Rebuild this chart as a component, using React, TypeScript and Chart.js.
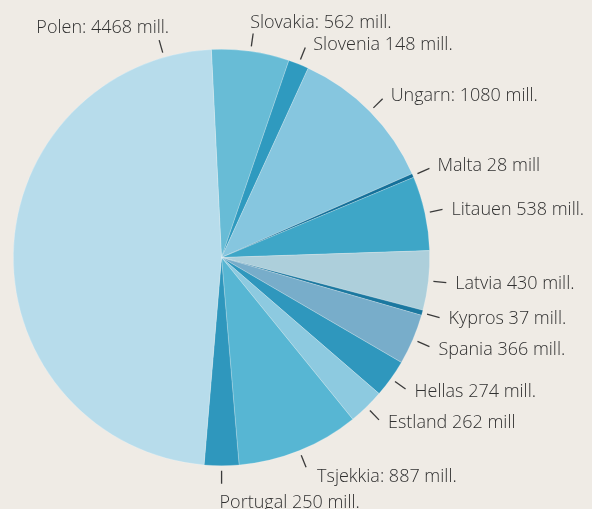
import React, { useEffect, useRef } from "react";
import { Chart, registerables } from "chart.js";

Chart.register(...registerables);

const countries = [
  "Slovakia", "Slovenia", "Ungarn", "Malta", "Litauen", "Latvia", "Kypros",
  "Spania", "Hellas", "Estland", "Tsjekkia", "Portugal", "Polen",
];
const amounts = [562, 148, 1080, 28, 538, 430, 37, 366, 274, 262, 887, 250, 4468];
const labelTexts = [
  "Slovakia: 562 mill.", "Slovenia 148 mill.", "Ungarn: 1080 mill.", "Malta 28 mill",
  "Litauen 538 mill.", "Latvia 430 mill.", "Kypros 37 mill.", "Spania 366 mill.",
  "Hellas 274 mill.", "Estland 262 mill", "Tsjekkia: 887 mill.", "Portugal 250 mill.",
  "Polen: 4468 mill.",
];
const sliceColors = [
  "#68bcd6", "#2f9abf", "#86c6df", "#14709a", "#3ea6c7", "#adcfdb", "#1b78a0",
  "#78adca", "#2f97bd", "#8dcae0", "#57b6d3", "#2f97bd", "#b7dceb",
];

const BG = "#efebe5";
const TEXT = "#303030";
const FONT_SIZE = 18;
const FONT = `300 ${FONT_SIZE}px 'Open Sans', Roboto, sans-serif`;
const CAP_HALF = 0.357 * FONT_SIZE;

const outsideLabels = {
  id: "outsideLabels",
  afterDatasetsDraw(chart: any, _args: any, opts: any) {
    const ctx = chart.ctx;
    const meta = chart.getDatasetMeta(0);
    const texts: string[] = opts.texts || [];
    const overrides: Record<number, number> = opts.angleOverrides || {};
    ctx.save();
    ctx.font = FONT;
    ctx.fillStyle = TEXT;
    ctx.strokeStyle = "#3a3a3a";
    ctx.lineWidth = 1.3;
    meta.data.forEach((arc: any, i: number) => {
      const p = arc.getProps(["x", "y", "startAngle", "endAngle", "outerRadius"], true);
      let theta = ((p.startAngle + p.endAngle) / 2) * 180 / Math.PI + 90;
      theta = ((theta % 360) + 360) % 360;
      if (overrides[i] !== undefined) theta = overrides[i];
      const rad = theta * Math.PI / 180;
      const sx = Math.sin(rad), cy = -Math.cos(rad);
      const r1 = p.outerRadius + 5, r2 = p.outerRadius + 18;
      const S = { x: p.x + r1 * sx, y: p.y + r1 * cy };
      const E = { x: p.x + r2 * sx, y: p.y + r2 * cy };
      ctx.beginPath();
      ctx.moveTo(S.x, S.y);
      ctx.lineTo(E.x, E.y);
      ctx.stroke();
      let dx = 9, dy = 0;
      let align: CanvasTextAlign = "left";
      if (theta >= 300) { align = "right"; dx = 10; dy = -13; }
      else if (theta < 15) { dx = -3; dy = -12; }
      else if (theta < 70) { dx = 8; dy = -4; }
      else if (theta < 110) { dx = 9; dy = -0.5; }
      else if (theta < 150) { dx = 9; dy = 2; }
      else if (theta < 170) { dx = 11; dy = 8; }
      else { dx = -2; dy = 17.5; }
      ctx.textAlign = align;
      ctx.textBaseline = "alphabetic";
      ctx.fillText(texts[i] ?? "", E.x + dx, E.y + dy + CAP_HALF);
    });
    ctx.restore();
  },
};

export default function App() {
  const ref = useRef<HTMLCanvasElement | null>(null);
  useEffect(() => {
    if (!ref.current) return;
    const chart = new Chart(ref.current, {
      type: "pie",
      data: {
        labels: countries,
        datasets: [{
          data: amounts,
          backgroundColor: sliceColors,
          borderWidth: 0.6,
          borderColor: "rgba(255,255,255,0.35)",
        }],
      },
      options: {
        responsive: false,
        animation: false,
        rotation: -2.8,
        devicePixelRatio: 1,
        layout: { padding: { left: 13, top: 49, right: 162, bottom: 43 } },
        plugins: {
          legend: { display: false },
          tooltip: { enabled: false },
          outsideLabels: { texts: labelTexts, angleOverrides: { 12: 344 } },
        } as any,
      },
      plugins: [outsideLabels],
    });
    return () => chart.destroy();
  }, []);
  return (
    <div style={{ position: "fixed", left: 0, top: 0, width: 592, height: 509, background: BG }}>
      <canvas ref={ref} width={592} height={509} />
    </div>
  );
}
